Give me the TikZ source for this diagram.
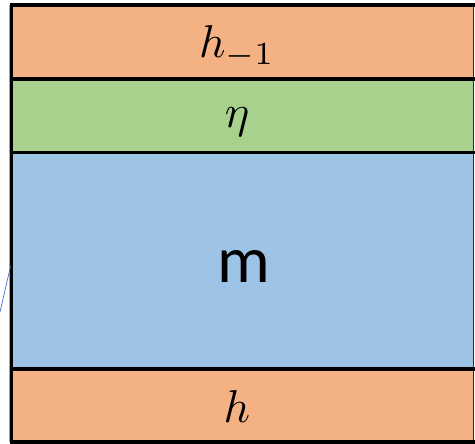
\documentclass[tikz,border=0pt]{standalone}
\usepackage{fontspec}
\newfontfamily\carlito{Carlito}
\definecolor{layerorange}{HTML}{F4B183}
\definecolor{layergreen}{HTML}{A9D18E}
\definecolor{layerblue}{HTML}{9DC3E6}
\definecolor{thinblue}{RGB}{70,110,200}
\begin{document}
\begin{tikzpicture}[x=1pt,y=-1pt,
  sep/.style={line width=3.6pt,black},
  lbl/.style={anchor=base,inner sep=0pt,scale=4.6}]
\useasboundingbox (0,0) rectangle (475,444);
% fills
\fill[layerorange] (11.5,5) rectangle (474,79);
\fill[layergreen] (11.5,79) rectangle (474,152.7);
\fill[layerblue] (11.5,152.7) rectangle (474,368.7);
\fill[layerorange] (11.5,368.7) rectangle (474,442);
% grey edge
\draw[gray!70,line width=0.8pt] (9.4,5) -- (9.4,442);
% right thin edge
\draw[black!70!brown,line width=1pt] (473.8,5) -- (473.8,442);
% separators
\draw[sep] (9.7,5) -- (476,5);
\draw[sep] (9.7,79) -- (476,79);
\draw[sep] (9.7,152.7) -- (476,152.7);
\draw[sep] (9.7,368.7) -- (476,368.7);
\draw[sep] (9.7,442) -- (476,442);
\draw[sep] (11.5,3.2) -- (11.5,443.8);
% labels
\node[lbl] (hm) at (237,58) {$h_{-1}$};
\node[lbl] (eta) at (237,128) {$\eta$};
\node[anchor=base,inner sep=0pt,font=\carlito\fontsize{66}{70}\selectfont] (m) at (243.5,282.7) {m};
\node[lbl] (h) at (237,422.7) {$h$};
% thin blue line
\coordinate (la) at (10.5,266.5);
\coordinate (lb) at (0,312);
\draw[thinblue,line width=0.7pt] (la) -- (lb);
\end{tikzpicture}
\end{document}
